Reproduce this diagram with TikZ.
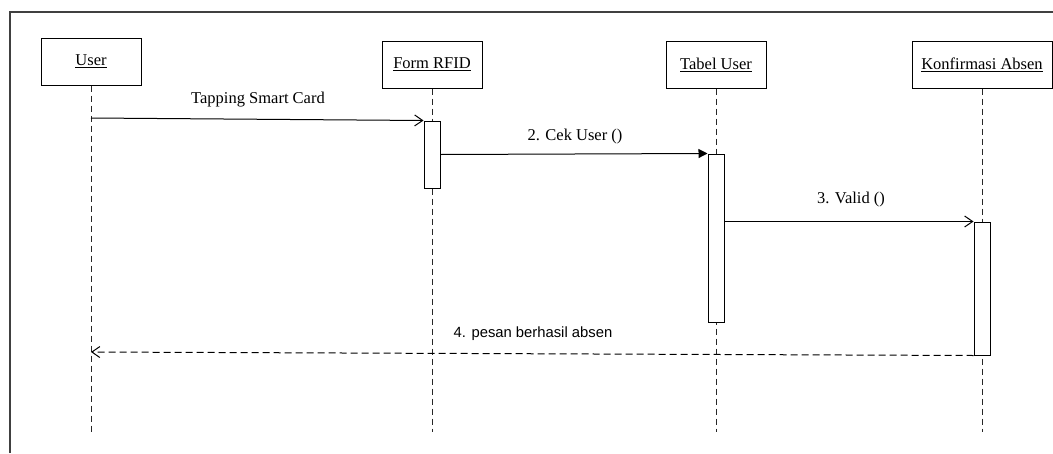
\documentclass[tikz,border=0pt]{standalone}
\usepackage{fontspec}
\setmainfont{Liberation Serif}
\setsansfont{Liberation Sans}
\usetikzlibrary{arrows.meta}
\begin{document}
\begin{tikzpicture}[x=1pt,y=-1pt,
  obj/.style={draw, line width=1pt, minimum height=47pt, inner sep=0pt, fill=white,
    font=\fontsize{16.5}{19}\selectfont},
  actbar/.style={draw, line width=1pt, fill=white, minimum width=16pt, inner sep=0pt},
  life/.style={line width=1pt, dash pattern=on 6pt off 4pt, black!85},
  msg/.style={line width=1pt},
  lbl/.style={font=\fontsize{16.5}{19}\selectfont, inner sep=0pt},
  slbl/.style={font=\sffamily\fontsize{14.8}{17}\selectfont, inner sep=0pt},
  openhead/.style={-{Straight Barb[length=8pt,width=11pt,line width=1pt]}},
  filledhead/.style={-{Triangle[length=9pt,width=9pt]}}]
\useasboundingbox (0,0) rectangle (1053,453);
% frame
\draw[line width=1.5pt, black!75] (10,453) -- (10,12) -- (1053,12);
% objects
\node[obj, minimum width=100pt] (user) at (91,61.5) {\underline{User}};
\node[obj, minimum width=100pt] (form) at (432,64.5) {\underline{Form RFID}};
\node[obj, minimum width=100pt] (tabel) at (716,64.5) {\underline{Tabel User}};
\node[obj, minimum width=140pt] (konf) at (982,64.5) {\underline{Konfirmasi Absen}};
% lifeline ends
\coordinate (userEnd) at (91,432);
\coordinate (formEnd) at (432,432);
\coordinate (tabelEnd) at (716,432);
\coordinate (konfEnd) at (982,432);
\draw[life] (user.south) -- (userEnd);
\draw[life] (form.south) -- (formEnd);
\draw[life] (tabel.south) -- (tabelEnd);
\draw[life] (konf.south) -- (konfEnd);
% activation bars
\node[actbar, minimum height=67pt] (fbar) at (432,154.5) {};
\node[actbar, minimum height=168pt] (tbar) at (716,238) {};
\node[actbar, minimum height=133pt] (kbar) at (982,288.5) {};
% messages
\coordinate (m1s) at (91,118);
\draw[msg, openhead] (m1s) -- (fbar.north west);
\node[lbl] (l1) at (258,100) {Tapping Smart Card};
\draw[msg, filledhead] (fbar.east) -- (tbar.north west);
\node[lbl] (l2) at (575,137) {2. Cek User ()};
\draw[msg, openhead] (tbar.east |- kbar.north west) -- (kbar.north west);
\node[lbl] (l3) at (851,200) {3. Valid ()};
\coordinate (m4e) at (91,352);
\draw[msg, openhead, dash pattern=on 7pt off 4pt] (kbar.south west) -- (m4e);
\node[slbl] (l4) at (533,334) {4. pesan berhasil absen};
\end{tikzpicture}
\end{document}
